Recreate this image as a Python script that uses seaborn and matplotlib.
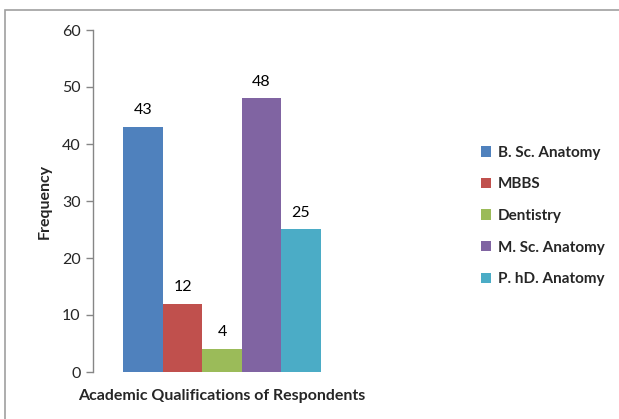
import matplotlib
matplotlib.use("Agg")
import matplotlib.pyplot as plt
import seaborn as sns
import pandas as pd
from matplotlib.patches import Rectangle

qualifications = ["B. Sc. Anatomy", "MBBS", "Dentistry", "M. Sc. Anatomy", "P. hD. Anatomy"]
frequencies = [43, 12, 4, 48, 25]
bar_colors = ["#4F81BD", "#C0504D", "#9BBB59", "#8064A2", "#4BACC6"]
y_ticks = [0, 10, 20, 30, 40, 50, 60]

sns.set_style("white")
plt.rcParams["font.family"] = ["Lato", "DejaVu Sans"]

df = pd.DataFrame({
    "group": ["Academic Qualifications of Respondents"] * len(qualifications),
    "qualification": qualifications,
    "frequency": frequencies,
})

fig = plt.figure(figsize=(6.19, 4.19), dpi=100)
ax = fig.add_axes([93 / 619, 1 - 372 / 419, (351 - 93) / 619, (372 - 30) / 419])

sns.barplot(data=df, x="group", y="frequency", hue="qualification",
            hue_order=qualifications, palette=bar_colors, width=0.764,
            gap=0, saturation=1, edgecolor="none", linewidth=0, ax=ax)

for container in ax.containers:
    ax.bar_label(container, padding=7, fontsize=11.5, color="black")

ax.set_xlim(-0.5, 0.5)
ax.set_ylim(0, 60)
ax.set_yticks(y_ticks)
ax.set_yticklabels([str(t) for t in y_ticks], fontsize=11.5)
ax.set_xticks([])
ax.set_xlabel("Academic Qualifications of Respondents", fontsize=11.5,
              fontweight="bold", labelpad=12)
ax.set_ylabel("Frequency", fontsize=11.5, fontweight="bold", labelpad=7)

for side in ["top", "right", "bottom"]:
    ax.spines[side].set_visible(False)
ax.spines["left"].set_color("#868686")
ax.spines["left"].set_linewidth(1)
ax.tick_params(axis="y", which="major", left=True, length=5, width=1,
               color="#868686", pad=4)

ax.legend(loc="center left", bbox_to_anchor=(467 / 619, 1 - 216 / 419),
          bbox_transform=fig.transFigure, frameon=False,
          prop={"weight": "bold", "size": 11}, handlelength=0.68,
          handleheight=0.68, handletextpad=0.45, labelspacing=1.15)

# outer chart border
fig.patches.append(Rectangle((5 / 619, -0.05), 1.1, 1 - 10 / 419 + 0.05,
                             transform=fig.transFigure, fill=False,
                             edgecolor="#A0A0A0", linewidth=1.2, zorder=0))

fig.savefig("out.png", dpi=100)
